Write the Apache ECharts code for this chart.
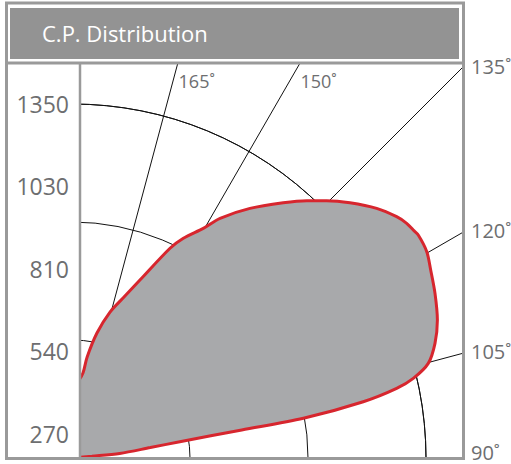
<!DOCTYPE html>
<html>
<head>
<meta charset="utf-8">
<script src="https://cdn.jsdelivr.net/npm/echarts@6/dist/echarts.min.js"></script>
<style>html,body{margin:0;padding:0;background:#fff}#c{width:511px;height:464px}</style>
</head>
<body>
<div id="c"></div>
<script>
// ---- data ----
const titleText = 'C.P. Distribution';
const leftTickLabels = ['270', '540', '810', '1030', '1350'];
const angleTicks = [90, 105, 120, 135, 150, 165];
// polar curve: angle (deg, 90 = down/right axis, 180 = up) and intensity (outer ring = 1500)
const curveAngles = [90, 95, 95.4, 97.6, 98.6, 99.37, 99.74, 100.94, 102.11, 103.14, 104.88, 107.53, 110.69, 114.4, 117.66, 120.18, 122.78, 123.74, 125.04, 126.62, 129.33, 132.56, 135.3, 137.63, 140.4, 144.51, 148.3, 150.25, 153.13, 154.95, 159.1, 161.9, 165.4, 168.7, 171.5, 172.6, 175, 180];
const curveValues = [0, 85, 203, 335, 462, 729, 995, 1257, 1407, 1485, 1562, 1613, 1655, 1689, 1716, 1739, 1745, 1739, 1732, 1714, 1669, 1599, 1534, 1476, 1404, 1299, 1194, 1121, 1044, 981, 807, 722, 639, 540, 432, 364, 331, 305];
const ringMax = 1500, ringStep = 500;

// ---- layout ----
const CX = 72, CY = 458;
const R_RING = 354, R_BIG = 600;
const FRAME_L = 81, FRAME_R = 462, FRAME_T = 64, FRAME_B = 458;
const GRAY = '#9a9a9a', TXT = '#6d6e70';

const chart = echarts.init(document.getElementById('c'), null, {renderer: 'svg'});

const labelEls = angleTicks.map(a => {
  const th = (a - 90) * Math.PI / 180;
  if (a <= 135) {
    const y = CY - (FRAME_R - CX) * Math.tan(th);
    return {type: 'text', z: 120, x: 471, y: Math.min(y - 2, 452),
      style: {text: a + '˚', fill: TXT, fontSize: 20, fontFamily: 'Open Sans', verticalAlign: 'middle', align: 'left'}};
  }
  const x = CX + (CY - FRAME_T) / Math.tan(th);
  return {type: 'text', z: 120, x: x + 1, y: 81,
    style: {text: a + '˚', fill: TXT, fontSize: 18, fontFamily: 'Open Sans', verticalAlign: 'middle', align: 'left'}};
});

const option = {
  animation: false,
  backgroundColor: '#fff',
  grid: {left: 80, right: 49, top: 104, bottom: 30.5},
  xAxis: {type: 'value', show: false},
  yAxis: {type: 'category', z: 150, boundaryGap: false, data: leftTickLabels,
    axisLine: {show: false}, axisTick: {show: false}, splitLine: {show: false},
    axisLabel: {fontSize: 23, color: TXT, margin: 11, fontFamily: 'Open Sans'}},
  polar: [
    {center: [CX, CY], radius: R_RING},
    {center: [CX, CY], radius: R_BIG}
  ],
  angleAxis: [
    {polarIndex: 0, type: 'value', min: 90, max: 180, interval: 15, startAngle: 0, endAngle: 90, clockwise: false,
      axisLine: {show: true, lineStyle: {color: '#111', width: 1}}, axisTick: {show: false}, axisLabel: {show: false}, splitLine: {show: false}},
    {polarIndex: 1, type: 'value', min: 90, max: 180, interval: 15, startAngle: 0, endAngle: 90, clockwise: false,
      axisLine: {show: false}, axisTick: {show: false}, axisLabel: {show: false},
      splitLine: {show: true, lineStyle: {color: '#111', width: 1}}}
  ],
  radiusAxis: [
    {polarIndex: 0, type: 'value', min: 0, max: ringMax, interval: ringStep,
      axisLine: {show: false}, axisTick: {show: false}, axisLabel: {show: false},
      splitLine: {show: true, lineStyle: {color: '#111', width: 1}}},
    {polarIndex: 1, type: 'value', min: 0, max: ringMax * R_BIG / R_RING, show: false, splitLine: {show: false}}
  ],
  series: [{
    type: 'line', coordinateSystem: 'polar', polarIndex: 1, z: 5, clip: false,
    data: curveAngles.map((a, i) => [curveValues[i], a]),
    symbol: 'none', smooth: 0.3,
    lineStyle: {color: '#d7262e', width: 3},
    areaStyle: {color: '#a8a9ab', opacity: 1}
  }],
  graphic: [
    {type: 'rect', z: 100, shape: {x: 0, y: 0, width: FRAME_L - 1, height: 464}, style: {fill: '#fff'}},
    {type: 'rect', z: 100, shape: {x: 0, y: 0, width: 511, height: FRAME_T - 1}, style: {fill: '#fff'}},
    {type: 'rect', z: 100, shape: {x: FRAME_R + 1, y: 0, width: 60, height: 464}, style: {fill: '#fff'}},
    {type: 'rect', z: 100, shape: {x: 0, y: FRAME_B + 1, width: 511, height: 10}, style: {fill: '#fff'}},
    {type: 'rect', z: 110, shape: {x: 6.5, y: 3, width: 457, height: 455.5}, style: {fill: 'none', stroke: GRAY, lineWidth: 3}},
    {type: 'rect', z: 110, shape: {x: 10, y: 8, width: 449, height: 51}, style: {fill: '#939393'}},
    {type: 'line', z: 110, shape: {x1: 5, y1: 63, x2: 465, y2: 63}, style: {stroke: GRAY, lineWidth: 3}},
    {type: 'line', z: 110, shape: {x1: 80, y1: 63, x2: 80, y2: 460}, style: {stroke: GRAY, lineWidth: 2.5}},
    {type: 'text', z: 120, x: 42, y: 33, style: {text: titleText, fill: '#fff', fontSize: 22, fontFamily: 'Open Sans', verticalAlign: 'middle'}},
    ...labelEls
  ]
};
chart.setOption(option);
</script>
</body>
</html>
